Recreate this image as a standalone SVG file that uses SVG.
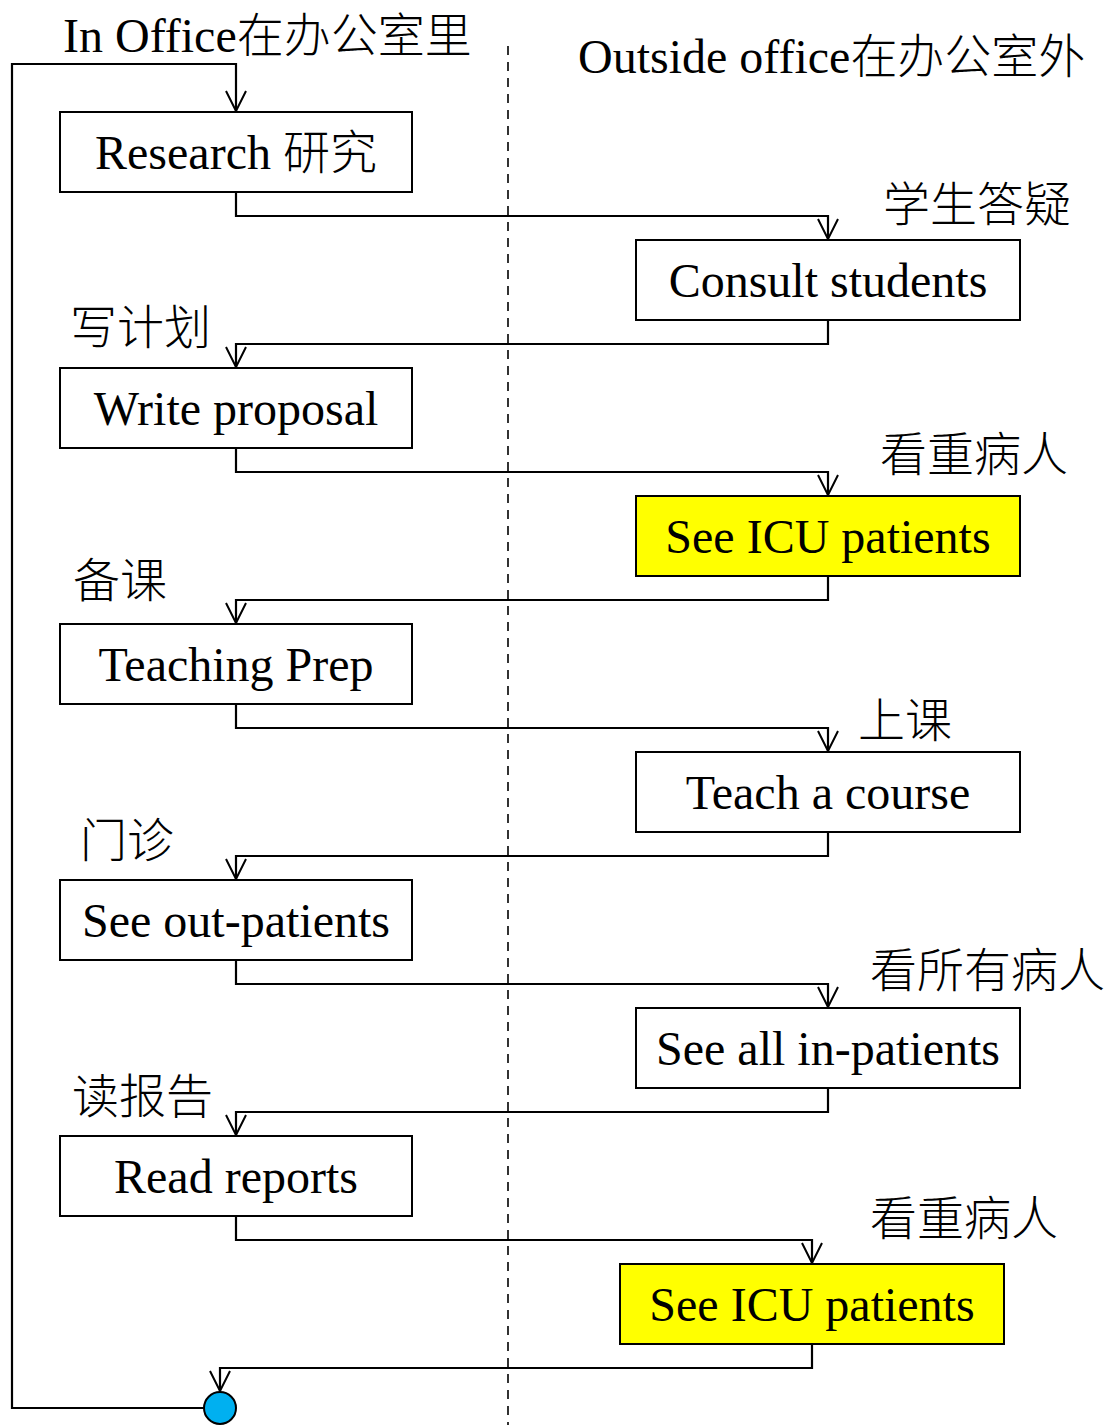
<svg xmlns="http://www.w3.org/2000/svg" width="1109" height="1425" viewBox="0 0 1109 1425">
  <defs>
    <marker id="arrow" viewBox="0 0 24 24" refX="22" refY="12" markerWidth="24" markerHeight="24" markerUnits="userSpaceOnUse" orient="auto">
      <path d="M2,2 L22,12 L2,22" fill="none" stroke="#000" stroke-width="2"/>
    </marker>
    <style>
      .box { fill: #fff; stroke: #000; stroke-width: 2; }
      .hot { fill: #ffff00; stroke: #000; stroke-width: 2; }
      .lbl { font-family: "Liberation Serif", "Noto Sans CJK SC", serif; font-size: 48px; fill: #000; }
      .mid { text-anchor: middle; }
      .cn { font-family: "Noto Sans CJK SC", sans-serif; font-size: 47px; font-weight: 300; fill: #000; }
      .flow { fill: none; stroke: #000; stroke-width: 2.2; marker-end: url(#arrow); }
      .lane { stroke: #000; stroke-width: 1.6; stroke-dasharray: 9 7; }
    </style>
  </defs>
  <rect width="1109" height="1425" fill="#fff"/>

  <!-- lane divider and headings -->
  <line class="lane" x1="508" y1="46" x2="508" y2="1425"/>
  <text class="lbl" x="63" y="52">In Office<tspan class="cn">在办公室里</tspan></text>
  <text class="lbl" x="578" y="73">Outside office<tspan class="cn">在办公室外</tspan></text>

  <!-- connectors -->
  <g id="connectors">
    <path class="flow" d="M204,1408 H12 V64 H236 V111"/>
    <path class="flow" d="M236,192 V216 H828 V239"/>
    <path class="flow" d="M828,320 V344 H236 V367"/>
    <path class="flow" d="M236,448 V472 H828 V495"/>
    <path class="flow" d="M828,576 V600 H236 V623"/>
    <path class="flow" d="M236,704 V728 H828 V751"/>
    <path class="flow" d="M828,832 V856 H236 V879"/>
    <path class="flow" d="M236,960 V984 H828 V1007"/>
    <path class="flow" d="M828,1088 V1112 H236 V1135"/>
    <path class="flow" d="M236,1216 V1240 H812 V1263"/>
    <path class="flow" d="M812,1344 V1368 H220 V1391"/>
  </g>

  <!-- side notes -->
  <text class="cn" x="883" y="221">学生答疑</text>
  <text class="cn" x="70" y="344">写计划</text>
  <text class="cn" x="880" y="471">看重病人</text>
  <text class="cn" x="73" y="597">备课</text>
  <text class="cn" x="858" y="737">上课</text>
  <text class="cn" x="80" y="857">门诊</text>
  <text class="cn" x="870" y="987">看所有病人</text>
  <text class="cn" x="72" y="1113">读报告</text>
  <text class="cn" x="870" y="1235">看重病人</text>

  <!-- activity nodes -->
  <g id="research">
    <rect class="box" x="60" y="112" width="352" height="80"/>
    <text class="lbl mid" x="236" y="169">Research <tspan class="cn">研究</tspan></text>
  </g>
  <g id="consult">
    <rect class="box" x="636" y="240" width="384" height="80"/>
    <text class="lbl mid" x="828" y="297">Consult students</text>
  </g>
  <g id="proposal">
    <rect class="box" x="60" y="368" width="352" height="80"/>
    <text class="lbl mid" x="236" y="425">Write proposal</text>
  </g>
  <g id="icu1">
    <rect class="hot" x="636" y="496" width="384" height="80"/>
    <text class="lbl mid" x="828" y="553">See ICU patients</text>
  </g>
  <g id="prep">
    <rect class="box" x="60" y="624" width="352" height="80"/>
    <text class="lbl mid" x="236" y="681">Teaching Prep</text>
  </g>
  <g id="teach">
    <rect class="box" x="636" y="752" width="384" height="80"/>
    <text class="lbl mid" x="828" y="809">Teach a course</text>
  </g>
  <g id="outpatients">
    <rect class="box" x="60" y="880" width="352" height="80"/>
    <text class="lbl mid" x="236" y="937">See out-patients</text>
  </g>
  <g id="inpatients">
    <rect class="box" x="636" y="1008" width="384" height="80"/>
    <text class="lbl mid" x="828" y="1065">See all in-patients</text>
  </g>
  <g id="reports">
    <rect class="box" x="60" y="1136" width="352" height="80"/>
    <text class="lbl mid" x="236" y="1193">Read reports</text>
  </g>
  <g id="icu2">
    <rect class="hot" x="620" y="1264" width="384" height="80"/>
    <text class="lbl mid" x="812" y="1321">See ICU patients</text>
  </g>
  <g id="merge">
    <circle cx="220" cy="1408" r="16" fill="#00b0f0" stroke="#000" stroke-width="2"/>
  </g>
</svg>
